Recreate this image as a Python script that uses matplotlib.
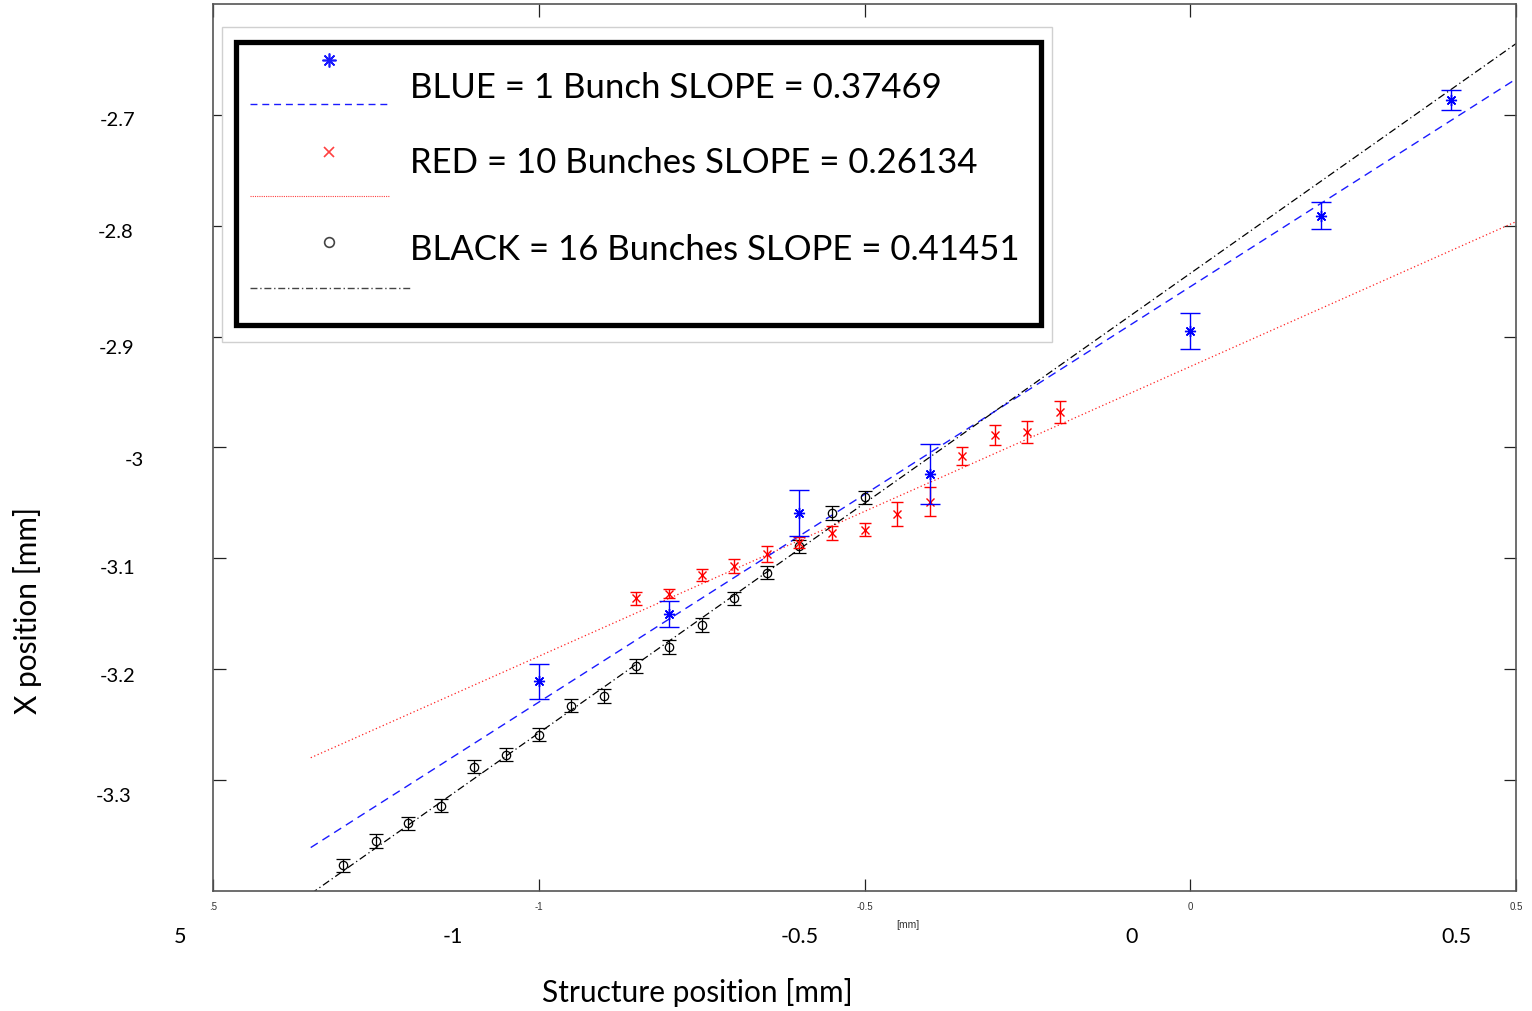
import numpy as np
import matplotlib
matplotlib.use("Agg")
import matplotlib.pyplot as plt
from matplotlib.lines import Line2D
from matplotlib.patches import Rectangle

# ---------------- data ----------------
blue_x = [-1.0, -0.8, -0.6, -0.4, 0.0, 0.2, 0.4]
blue_y = [-3.211, -3.150, -3.059, -3.024, -2.895, -2.791, -2.687]
blue_err = [0.016, 0.012, 0.021, 0.027, 0.016, 0.012, 0.009]

red_x = [-0.85, -0.8, -0.75, -0.7, -0.65, -0.6, -0.55, -0.5, -0.45, -0.4, -0.35, -0.3, -0.25, -0.2]
red_y = [-3.136, -3.132, -3.115, -3.107, -3.096, -3.086, -3.077, -3.074, -3.060, -3.049,
         -3.008, -2.989, -2.986, -2.968]
red_err = [0.006, 0.004, 0.005, 0.006, 0.007, 0.005, 0.006, 0.006, 0.011, 0.013,
           0.008, 0.009, 0.010, 0.010]

black_x = [-1.3, -1.25, -1.2, -1.15, -1.1, -1.05, -1.0, -0.95, -0.9, -0.85, -0.8, -0.75,
           -0.7, -0.65, -0.6, -0.55, -0.5]
black_y = [-3.377, -3.355, -3.339, -3.323, -3.288, -3.277, -3.259, -3.233, -3.224, -3.197,
           -3.180, -3.160, -3.136, -3.113, -3.089, -3.059, -3.045]
black_err = [0.006] * 17

slopes = {"blue": 0.37469, "red": 0.26134, "black": 0.41451}
intercepts = {"blue": -2.855, "red": -2.927, "black": -2.843}
fit_range = [-1.35, 0.5]

x_ticks = [-1.5, -1.0, -0.5, 0.0, 0.5]
x_ticklabels = [".5", "-1", "-0.5", "0", "0.5"]
y_ticks = [-3.3, -3.2, -3.1, -3.0, -2.9, -2.8, -2.7]

overlay_x_labels = ["5", "-1", "-0.5", "0", "0.5"]
overlay_y_labels = ["-2.7", "-2.8", "-2.9", "-3", "-3.1", "-3.2", "-3.3"]

legend_texts = ["BLUE = 1 Bunch SLOPE = 0.37469",
                "RED = 10 Bunches SLOPE = 0.26134",
                "BLACK = 16 Bunches SLOPE = 0.41451"]

# ---------------- figure ----------------
W, H = 1532, 1012
fig = plt.figure(figsize=(W / 100, H / 100), dpi=100)
FONT = "Lato"
ASTERISK = (8, 2, 0)


def fx(px):
    return px / W


def fy(py):
    return 1 - py / H


ax = fig.add_axes([fx(213), fy(892), (1516 - 213) / W, (892 - 5) / H])
ax.set_xlim(-1.5, 0.5)
ax.set_ylim(-3.4, -2.6)

xf = np.linspace(fit_range[0], fit_range[1], 200)
ax.plot(xf, intercepts["red"] + slopes["red"] * xf, color="#ff2020", lw=0.9,
        linestyle=(0, (1, 2)), zorder=2)
ax.plot(xf, intercepts["blue"] + slopes["blue"] * xf, color="#1a1aff", lw=1.0,
        linestyle=(0, (6, 4)), zorder=2)
ax.plot(xf, intercepts["black"] + slopes["black"] * xf, color="black", lw=0.9,
        linestyle=(0, (6, 2.5, 1, 2.5)), zorder=2)

ax.errorbar(black_x, black_y, yerr=black_err, fmt="o", ms=6, mfc="none", mec="black",
            mew=0.9, ecolor="black", elinewidth=0.9, capsize=5, capthick=1.0, zorder=3)
ax.errorbar(red_x, red_y, yerr=red_err, fmt="x", ms=6, mec="#ff0000", mew=1.0,
            ecolor="#ff0000", elinewidth=1.0, capsize=4.5, capthick=1.0, zorder=4)
ax.errorbar(blue_x, blue_y, yerr=blue_err, fmt="none", ecolor="#0000ff",
            elinewidth=1.0, capsize=7, capthick=1.0, zorder=5)
ax.plot(blue_x, blue_y, ls="none", marker=ASTERISK, ms=8, mec="#0000ff", mew=1.0, zorder=6)

ax.set_xticks(x_ticks)
ax.set_xticklabels(x_ticklabels, fontsize=7, color="#333333", family="Liberation Sans")
ax.set_yticks(y_ticks)
ax.set_yticklabels([])
ax.tick_params(direction="in", length=9, width=0.9, top=True, right=True, pad=7,
               color="#222222")
for s in ax.spines.values():
    s.set_color("#555555")
    s.set_linewidth(1.2)

# small [mm] under the axis
fig.text(fx(908), fy(925), "[mm]", fontsize=7.5, family="Liberation Sans",
         color="#333333", ha="center", va="center")

# overlay tick labels
ox_px = [180, 453, 800, 1132, 1456]
for lbl, px in zip(overlay_x_labels, ox_px):
    fig.text(fx(px), fy(937), lbl, fontsize=15.5, family=FONT, ha="center", va="center")
oy_px = [(118, 120), (116, 232), (117, 349), (134, 460), (118, 568), (118, 677), (114, 797)]
for lbl, (px, py) in zip(overlay_y_labels, oy_px):
    fig.text(fx(px), fy(py), lbl, fontsize=14.5, family=FONT, ha="center", va="center")

fig.text(fx(697), fy(993), "Structure position [mm]", fontsize=21.5, family=FONT,
         ha="center", va="center")
fig.text(fx(27), fy(610), "X position [mm]", fontsize=21.5, family=FONT, rotation=90,
         ha="center", va="center")

# ---------------- legend (drawn manually) ----------------
fig.add_artist(Rectangle((fx(222), fy(343)), (1052 - 222) / W, (343 - 28) / H,
                         transform=fig.transFigure, facecolor="white",
                         edgecolor="#d0d0d0", lw=1.0, zorder=10))
fig.add_artist(Rectangle((fx(236), fy(326)), (1041 - 236) / W, (326 - 43) / H,
                         transform=fig.transFigure, facecolor="white",
                         edgecolor="black", lw=3.8, zorder=11))

leg_marker_y = [61, 153, 243]
leg_line_y = [105, 197, 289]
leg_text_y = [88, 163, 250]
leg_styles = [
    dict(marker=ASTERISK, color="#1a1aff", ms=10, mfc="#1a1aff", ls=(0, (5, 3.5)), x2=390, lw=1.0),
    dict(marker="x", color="#ff4040", ms=7, mfc="none", ls=(0, (1, 1)), x2=390, lw=0.8),
    dict(marker="o", color="#444444", ms=7, mfc="none", ls=(0, (5, 2, 1, 2)), x2=410, lw=1.0),
]
for st, my, ly, ty, txt in zip(leg_styles, leg_marker_y, leg_line_y, leg_text_y, legend_texts):
    fig.add_artist(Line2D([fx(329)], [fy(my)], transform=fig.transFigure, marker=st["marker"],
                          ms=st["ms"], mec=st["color"], mfc=st["mfc"], mew=1.2, ls="none",
                          zorder=12))
    fig.add_artist(Line2D([fx(250), fx(st["x2"])], [fy(ly), fy(ly)], transform=fig.transFigure,
                          color=st["color"], lw=st["lw"], ls=st["ls"], zorder=12))
    fig.text(fx(410), fy(ty), txt, fontsize=25, family=FONT, ha="left", va="center",
             zorder=13)

fig.savefig("out.png", dpi=100)
